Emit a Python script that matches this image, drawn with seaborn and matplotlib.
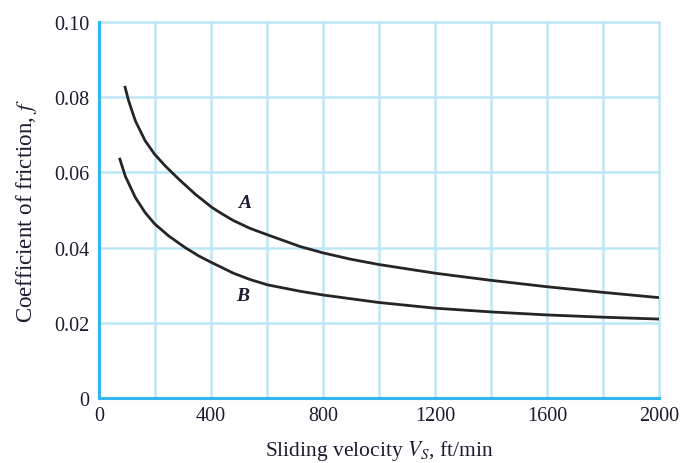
import matplotlib
matplotlib.use("Agg")
import matplotlib.pyplot as plt
import seaborn as sns
import pandas as pd

# Friction coefficient vs sliding velocity, curves A and B
velocity_a = [92, 106, 130, 165, 199, 237, 285, 344, 403, 439, 480, 540, 602, 718, 800, 900,
              1000, 1200, 1400, 1600, 1800, 2000]
friction_a = [0.0830, 0.0790, 0.0737, 0.0684, 0.0648, 0.0617, 0.0582, 0.0542, 0.0507, 0.0490,
              0.0472, 0.0451, 0.0434, 0.0403, 0.0386, 0.0369, 0.0355, 0.0332, 0.0313, 0.0296,
              0.0281, 0.0267]
velocity_b = [73, 94, 130, 165, 199, 249, 308, 356, 403, 439, 480, 540, 602, 718, 800,
              1000, 1200, 1400, 1600, 1800, 2000]
friction_b = [0.0639, 0.0590, 0.0533, 0.0493, 0.0463, 0.0431, 0.0400, 0.0378, 0.0360, 0.0347,
              0.0332, 0.0315, 0.0301, 0.0284, 0.0274, 0.0254, 0.0239, 0.0229, 0.0221, 0.0215,
              0.0210]

x_ticks = [0, 400, 800, 1200, 1600, 2000]
y_ticks = [0, 0.02, 0.04, 0.06, 0.08, 0.10]
y_tick_labels = ["0", "0.02", "0.04", "0.06", "0.08", "0.10"]

df = pd.concat([
    pd.DataFrame({"v": velocity_a, "f": friction_a, "curve": "A"}),
    pd.DataFrame({"v": velocity_b, "f": friction_b, "curve": "B"}),
])

sns.set_theme(style="white")
plt.rcParams["font.family"] = ["Liberation Serif", "DejaVu Serif"]
plt.rcParams["mathtext.fontset"] = "stix"

fig = plt.figure(figsize=(6.85, 4.64), dpi=100)
ax = fig.add_axes([0.1445, 0.140, 0.8175, 0.8105])

grid_col = "#bde5f8"
spine_col = "#33b5f0"
text_col = "#1c1c30"

sns.lineplot(data=df, x="v", y="f", units="curve", estimator=None, sort=False,
             color="#252525", linewidth=2.0, ax=ax, legend=False)
for line in ax.get_lines():
    line.set_solid_joinstyle("round")
    line.set_solid_capstyle("butt")

ax.set_xlim(0, 2000)
ax.set_ylim(0, 0.10)

# grid every 200 ft/min and every 0.02
for xv in range(200, 2001, 200):
    ax.axvline(xv, color=grid_col, linewidth=1.8, zorder=0, clip_on=False)
for yv in y_ticks[1:]:
    ax.axhline(yv, color=grid_col, linewidth=1.8, zorder=0, clip_on=False)

ax.set_xticks(x_ticks)
ax.set_xticklabels([str(t) for t in x_ticks])
ax.set_yticks(y_ticks)
ax.set_yticklabels(y_tick_labels)
ax.tick_params(axis="both", length=0, labelsize=14.5, colors=text_col)
ax.tick_params(axis="x", pad=6)
ax.tick_params(axis="y", pad=7)

for side in ["top", "right"]:
    ax.spines[side].set_visible(False)
for side in ["left", "bottom"]:
    ax.spines[side].set_color(spine_col)
    ax.spines[side].set_linewidth(2.2)

ax.set_xlabel(r"Sliding velocity $V_S$, ft/min", fontsize=15.5, color=text_col, labelpad=9)
ax.set_ylabel(r"Coefficient of friction, $f$", fontsize=16.5, color=text_col, labelpad=11)

ax.text(519, 0.0519, "A", fontsize=14, style="italic", fontweight="bold",
        color=text_col, ha="center", va="center")
ax.text(515, 0.0272, "B", fontsize=14, style="italic", fontweight="bold",
        color=text_col, ha="center", va="center")

fig.savefig("out.png", dpi=100)
